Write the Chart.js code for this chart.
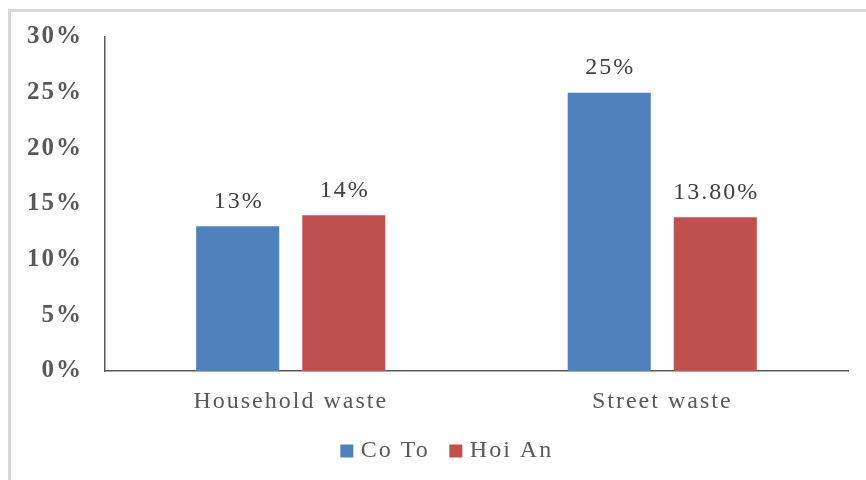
<!DOCTYPE html>
<html>
<head>
<meta charset="utf-8">
<script src="https://cdn.jsdelivr.net/npm/chart.js@4.4.1/dist/chart.umd.min.js"></script>
<style>
  html, body { margin: 0; padding: 0; background: #fff; }
  #wrap { position: relative; width: 866px; height: 480px; overflow: hidden; }
  #frame { position: absolute; left: 8px; top: 9px; width: 900px; height: 500px;
           border-left: 3px solid #d9d9d9; border-top: 3px solid #d9d9d9; box-sizing: border-box; }
  #chart { position: absolute; left: 0; top: 0; }
</style>
</head>
<body>
<div id="wrap">
  <div id="frame"></div>
  <canvas id="chart" width="866" height="480"></canvas>
</div>
<script>
// waste categories and share per site
var categories = ["Household waste", "Street waste"];
var coTo = [13, 25];
var hoiAn = [14, 13.8];
var yTicks = [0, 5, 10, 15, 20, 25, 30];

var serif = "'Liberation Serif', 'Times New Roman', serif";
var spacing = "2px";
var legendShiftX = 25;
var legendShiftY = -7;

function fmtPct(v) {
  return Number.isInteger(v) ? v + "%" : v.toFixed(2) + "%";
}

// wide letter spacing for all text on the canvas
var textSpacing = {
  id: "textSpacing",
  beforeUpdate: function (chart) { chart.ctx.letterSpacing = spacing; },
  beforeLayout: function (chart) { chart.ctx.letterSpacing = spacing; },
  beforeDraw: function (chart) { chart.ctx.letterSpacing = spacing; },
  afterLayout: function (chart) {
    var lg = chart.legend;
    lg.left += legendShiftX; lg.right += legendShiftX;
    lg.top += legendShiftY; lg.bottom += legendShiftY;
  }
};

// value label above each bar
var barLabels = {
  id: "barLabels",
  afterDatasetsDraw: function (chart) {
    var ctx = chart.ctx;
    ctx.save();
    ctx.letterSpacing = spacing;
    ctx.font = "24px " + serif;
    ctx.fillStyle = "#404040";
    ctx.textAlign = "center";
    ctx.textBaseline = "middle";
    chart.data.datasets.forEach(function (ds, i) {
      chart.getDatasetMeta(i).data.forEach(function (bar, j) {
        ctx.fillText(fmtPct(ds.data[j]), bar.x + 1, bar.y - 24.5);
      });
    });
    ctx.restore();
  }
};

// small square legend swatch with a tight gap before the text
function legendItems(chart) {
  var items = Chart.defaults.plugins.legend.labels.generateLabels(chart);
  items.forEach(function (it) {
    it.strokeStyle = it.fillStyle;
    it.lineWidth = 9;
    it.lineJoin = "miter";
  });
  return items;
}

new Chart(document.getElementById("chart"), {
  type: "bar",
  data: {
    labels: categories,
    datasets: [
      { label: "Co To", data: coTo, backgroundColor: "#4F81BD",
        categoryPercentage: 0.571, barPercentage: 0.783 },
      { label: "Hoi An", data: hoiAn, backgroundColor: "#C0504D",
        categoryPercentage: 0.571, barPercentage: 0.783 }
    ]
  },
  options: {
    responsive: false,
    animation: false,
    layout: { padding: { left: 0, right: 18, top: 36, bottom: 0 } },
    plugins: {
      tooltip: { enabled: false },
      legend: {
        position: "bottom",
        labels: {
          boxWidth: 4, boxHeight: 4, padding: 24,
          color: "#595959",
          font: { family: serif, size: 24 },
          generateLabels: legendItems
        }
      }
    },
    scales: {
      y: {
        min: 0, max: 30,
        afterFit: function (s) { s.width = 105; },
        afterBuildTicks: function (s) {
          s.ticks = yTicks.map(function (v) { return { value: v }; });
        },
        grid: { display: false, drawTicks: false },
        border: { display: true, color: "#595959", width: 1.5 },
        ticks: {
          padding: 22,
          color: "#595959",
          font: { family: serif, size: 25, weight: "bold" },
          callback: function (v) { return v + "%"; }
        }
      },
      x: {
        afterFit: function (s) { s.height = 51; },
        grid: { display: false, drawTicks: false },
        border: { display: true, color: "#595959", width: 1.5 },
        ticks: {
          padding: 16,
          color: "#595959",
          font: { family: serif, size: 24 }
        }
      }
    }
  },
  plugins: [textSpacing, barLabels]
});
</script>
</body>
</html>
